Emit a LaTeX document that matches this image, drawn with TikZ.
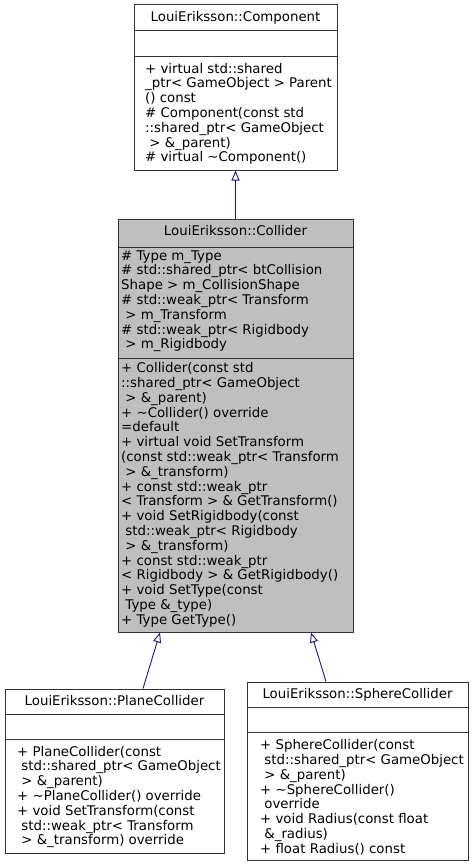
\documentclass[tikz,border=0pt]{standalone}
\usepackage{fontspec}
\setmainfont{DejaVu Sans}
\usetikzlibrary{arrows.meta}
\definecolor{edgeblue}{HTML}{191970}
\definecolor{boxgray}{HTML}{BFBFBF}
\definecolor{bordergray}{HTML}{333333}
\begin{document}
\begin{tikzpicture}[x=1pt,y=-1pt,
  umlbox/.style={draw=bordergray,line width=1pt,rectangle,inner sep=0pt},
  txt/.style={inner sep=0pt,anchor=north west,align=left,font=\fontsize{13.33}{14.8}\selectfont},
  ttl/.style={inner sep=0pt,anchor=base,font=\fontsize{13.33}{14.8}\selectfont},
  sep/.style={draw=bordergray,line width=1pt},
  inherit/.style={draw=edgeblue,line width=0.9pt,-{Triangle[open,length=10pt,width=8pt]}}]
\useasboundingbox (0,0) rectangle (472,867);

% Component
\node[umlbox,fill=white,minimum width=203pt,minimum height=165pt] (comp) at (235.5,87.5) {};
\draw[sep] (comp.west |- 0,31) -- (comp.east |- 0,31);
\draw[sep] (comp.west |- 0,57) -- (comp.east |- 0,57);
\node[ttl] (compt) at (235.5,22) {LouiEriksson::Component};
\node[txt] (compm) at (145,62.6) {\strut+ virtual std::shared\\\_ptr< GameObject > Parent\\() const\\\# Component(const std\\::shared\_ptr< GameObject\\\ > \&\_parent)\\\# virtual \textasciitilde Component()};

% Collider
\node[umlbox,fill=boxgray,minimum width=235pt,minimum height=413pt] (coll) at (235.5,425.5) {};
\draw[sep] (coll.west |- 0,247) -- (coll.east |- 0,247);
\draw[sep] (coll.west |- 0,358) -- (coll.east |- 0,358);
\node[ttl] (collt) at (235.5,235.5) {LouiEriksson::Collider};
\node[txt] (colla) at (121,249.6) {\strut\# Type m\_Type\\\# std::shared\_ptr< btCollision\\Shape > m\_CollisionShape\\\# std::weak\_ptr< Transform\\\ > m\_Transform\\\# std::weak\_ptr< Rigidbody\\\ > m\_Rigidbody};
\node[txt] (collm) at (121,362.1) {\strut+ Collider(const std\\::shared\_ptr< GameObject\\\ > \&\_parent)\\+ \textasciitilde Collider() override\\=default\\+ virtual void SetTransform\\(const std::weak\_ptr< Transform\\\ > \&\_transform)\\+ const std::weak\_ptr\\< Transform > \& GetTransform()\\+ void SetRigidbody(const\\\ std::weak\_ptr< Rigidbody\\\ > \&\_transform)\\+ const std::weak\_ptr\\< Rigidbody > \& GetRigidbody()\\+ void SetType(const\\\ Type \&\_type)\\+ Type GetType()};

% PlaneCollider
\node[umlbox,fill=white,minimum width=219pt,minimum height=164pt] (plane) at (114.5,771) {};
\draw[sep] (plane.west |- 0,714) -- (plane.east |- 0,714);
\draw[sep] (plane.west |- 0,739) -- (plane.east |- 0,739);
\node[ttl] (planet) at (114.5,705.5) {LouiEriksson::PlaneCollider};
\node[txt] (planem) at (17,745.6) {\strut+ PlaneCollider(const\\\ std::shared\_ptr< GameObject\\\ > \&\_parent)\\+ \textasciitilde PlaneCollider() override\\+ void SetTransform(const\\\ std::weak\_ptr< Transform\\\ > \&\_transform) override};

% SphereCollider
\node[umlbox,fill=white,minimum width=221pt,minimum height=178pt] (sphere) at (357.5,771) {};
\draw[sep] (sphere.west |- 0,707) -- (sphere.east |- 0,707);
\draw[sep] (sphere.west |- 0,732) -- (sphere.east |- 0,732);
\node[ttl] (spheret) at (357.5,698.5) {LouiEriksson::SphereCollider};
\node[txt] (spherem) at (260,739.1) {\strut+ SphereCollider(const\\\ std::shared\_ptr< GameObject\\\ > \&\_parent)\\+ \textasciitilde SphereCollider()\\\ override\\+ void Radius(const float\\\ \&\_radius)\\+ float Radius() const};

% inheritance edges
\draw[inherit] (coll.north) -- (comp.south);
\draw[inherit] ([xshift=28.5pt]plane.north) -- ([xshift=-75.5pt]coll.south);
\draw[inherit] ([xshift=-31.5pt]sphere.north) -- ([xshift=75.5pt]coll.south);
\end{tikzpicture}
\end{document}
